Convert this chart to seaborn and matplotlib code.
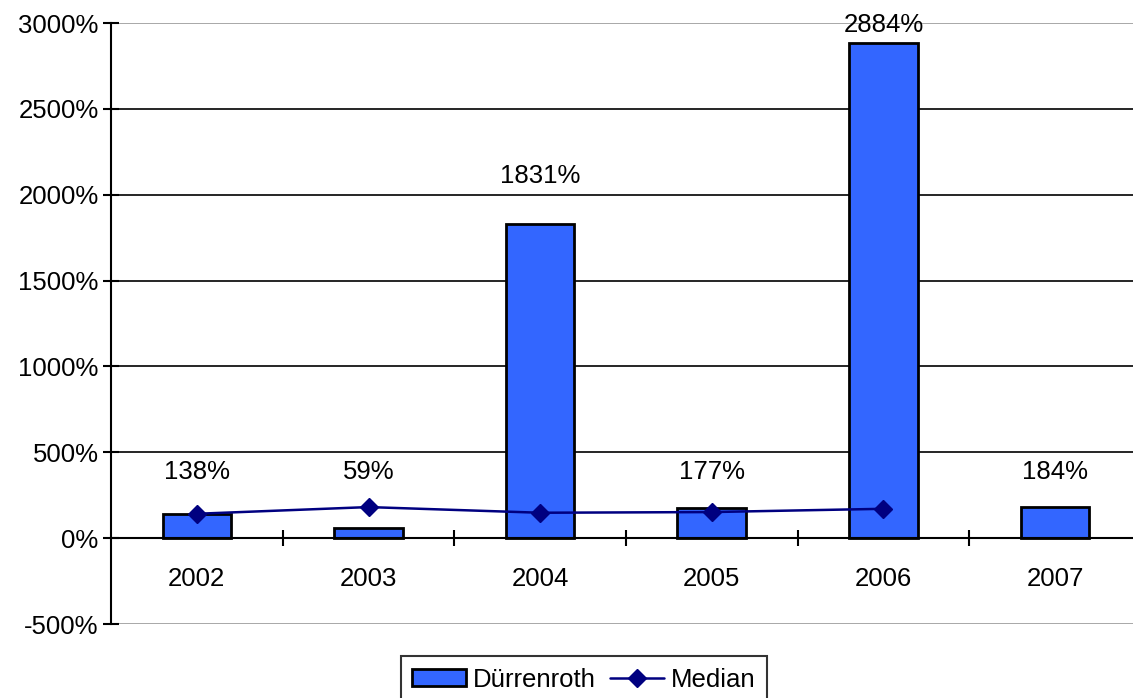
import matplotlib
matplotlib.use("Agg")
import matplotlib.pyplot as plt
import seaborn as sns
import numpy as np
from matplotlib.patches import Patch
from matplotlib.lines import Line2D
from matplotlib.ticker import FixedLocator

# Data
years = ["2002", "2003", "2004", "2005", "2006", "2007"]
durrenroth = [138, 59, 1831, 177, 2884, 184]
median_years = ["2002", "2003", "2004", "2005", "2006"]
median = [142, 181, 148, 152, 171]
yticks = [-500, 0, 500, 1000, 1500, 2000, 2500, 3000]

sns.set_theme(style="white")
plt.rcParams["font.family"] = ["Liberation Sans", "DejaVu Sans"]
FS = 18.5
plt.rcParams["font.size"] = FS
plt.rcParams["text.color"] = "black"
plt.rcParams["legend.labelcolor"] = "black"

bar_color = "#3366FF"
line_color = "#000080"

fig = plt.figure(figsize=(11.33, 6.98), dpi=100)
ax = fig.add_axes([0.098, 0.106, 0.909, 0.861])

sns.barplot(x=years, y=durrenroth, order=years, color=bar_color,
            edgecolor="black", linewidth=2, width=0.4, saturation=1, ax=ax)

pos = [years.index(y) for y in median_years]
ax.plot(pos, median, color=line_color, linewidth=1.8, marker="D",
        markersize=9, zorder=5)

# Value labels: small bars share one baseline row, tall bars carry theirs above
for i, v in enumerate(durrenroth):
    ly = v + 280 if v > 500 else 386
    ly = min(ly, 2990)
    ax.text(i, ly, f"{v}%", ha="center", va="center", fontsize=FS,
            color="black", zorder=6)

ax.set_xlim(-0.5, len(years) - 0.5)
ax.set_ylim(-500, 3000)

# Horizontal grid lines
for t in yticks:
    if t in (-500, 3000):
        ax.axhline(t, color="#999999", linewidth=1.2, zorder=0)
    elif t != 0:
        ax.axhline(t, color="black", linewidth=1.2, zorder=0)

ax.set_yticks(yticks)
ax.set_yticklabels([f"{t}%" for t in yticks])
ax.tick_params(axis="y", direction="inout", length=12, width=1.5,
               colors="black", labelsize=FS, pad=3, left=True)

# Category axis on the zero line
ax.spines["bottom"].set_position(("data", 0))
ax.spines["bottom"].set_color("black")
ax.spines["bottom"].set_linewidth(1.5)
ax.spines["bottom"].set_zorder(4)
ax.spines["left"].set_color("black")
ax.spines["left"].set_linewidth(1.5)
ax.spines["top"].set_visible(False)
ax.spines["right"].set_visible(False)

ax.xaxis.set_minor_locator(FixedLocator(np.arange(0.5, len(years) - 1, 1.0)))
ax.tick_params(axis="x", which="major", length=0, pad=21, labelsize=FS,
               colors="black")
ax.tick_params(axis="x", which="minor", direction="inout", length=12,
               width=1.5, color="black", bottom=True)
ax.set_xlabel("")
ax.set_ylabel("")

handles = [
    Patch(facecolor=bar_color, edgecolor="black", linewidth=2, label="Dürrenroth"),
    Line2D([0], [0], color=line_color, linewidth=1.8, marker="D",
           markersize=9, label="Median"),
]
leg = fig.legend(handles=handles, loc="upper center", ncol=2,
                 bbox_to_anchor=(0.5154, 0.0602), frameon=True, fancybox=False,
                 edgecolor="black", fontsize=FS, handlelength=2.1,
                 handletextpad=0.27, columnspacing=0.55, borderpad=0.45,
                 borderaxespad=0, handleheight=0.6)
leg.get_frame().set_linewidth(1.5)

fig.savefig("out.png", dpi=100)
